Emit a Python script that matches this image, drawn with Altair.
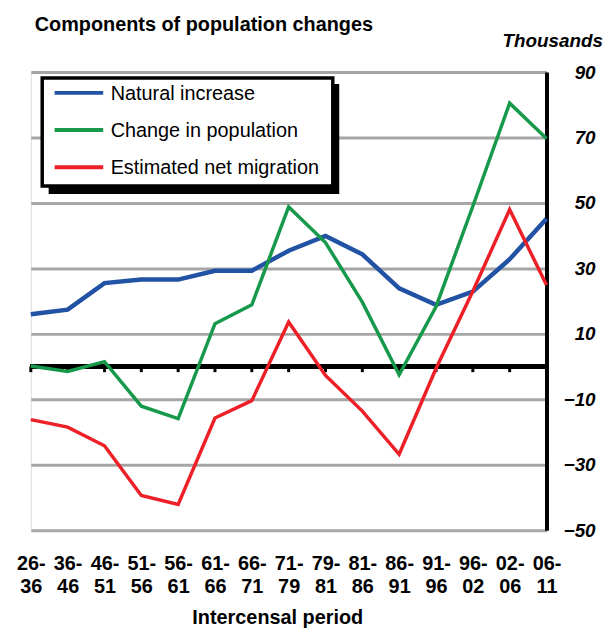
import altair as alt
import pandas as pd

periods = ["26-|36", "36-|46", "46-|51", "51-|56", "56-|61", "61-|66", "66-|71", "71-|79",
           "79-|81", "81-|86", "86-|91", "91-|96", "96-|02", "02-|06", "06-|11"]
natural_increase = [16, 17.4, 25.5, 26.6, 26.6, 29.3, 29.3, 35.4, 39.9, 34.3, 23.9, 18.9, 22.9, 32.8, 45.2]
change_in_population = [0.2, -1.5, 1.5, -12.1, -15.9, 13.1, 18.9, 48.8, 37.9, 19.7, -2.5, 18.3, 49, 80.5, 69.7]
net_migration = [-16.2, -18.5, -24.2, -39.4, -42.1, -15.7, -10.4, 13.6, -2.7, -13.6, -26.8, -0.6, 23, 48, 24.9]

series_names = ["Natural increase", "Change in population", "Estimated net migration"]
series_values = [natural_increase, change_in_population, net_migration]
series_colors = ["#2152a3", "#17994b", "#ed2028"]
series_widths = [4.5, 3.5, 3.5]
y_ticks = [-50, -30, -10, 10, 30, 50, 70, 90]

rows = []
for name, vals in zip(series_names, series_values):
    for p, v in zip(periods, vals):
        rows.append({"period": p, "series": name, "value": v})
df = pd.DataFrame(rows)
cat_df = pd.DataFrame({"period": periods})

FONT = "Liberation Sans"
W, H = 520, 462

x_enc = alt.X("period:O", sort=periods,
              scale=alt.Scale(type="point", padding=0),
              axis=alt.Axis(title=None, labelExpr="split(datum.label, '|')",
                            labelFont=FONT, labelFontSize=20, labelFontWeight="bold",
                            labelColor="black", labelAngle=0, labelLineHeight=23,
                            labelBaseline="alphabetic", labelPadding=40,
                            ticks=False, tickSize=0, domain=False, grid=False,
                            labelOverlap=False, labelBound=False))
y_scale = alt.Scale(domain=[-50, 90], nice=False, zero=False)
y_axis = alt.Axis(title=None, orient="right", values=y_ticks,
                  labelFont=FONT, labelFontSize=19, labelFontWeight="bold",
                  labelFontStyle="italic", labelColor="black", labelAlign="right",
                  labelBaseline="middle", labelPadding=49, ticks=False, tickSize=0,
                  domain=True, domainColor="black", domainWidth=4,
                  grid=True, gridColor="#a6a6a6", gridWidth=3)

layers = []

zero_line = alt.Chart(cat_df).mark_rule(color="black", strokeWidth=4.5).encode(
    y=alt.datum(0, scale=y_scale, axis=y_axis)
)
zero_ticks = alt.Chart(cat_df).mark_rule(color="black", strokeWidth=3).encode(
    x=x_enc, y=alt.datum(0), y2=alt.datum(-1.7)
)
layers += [zero_line, zero_ticks]

for name, color, sw in zip(series_names, series_colors, series_widths):
    layers.append(
        alt.Chart(df).transform_filter(alt.datum.series == name)
        .mark_line(color=color, strokeWidth=sw, strokeJoin="miter")
        .encode(x=x_enc, y=alt.Y("value:Q", scale=y_scale, axis=y_axis))
    )

one = pd.DataFrame({"a": [0]})
# legend shadow and box
layers.append(alt.Chart(one).mark_rect(fill="black").encode(
    x=alt.value(18), x2=alt.value(311), y=alt.value(12), y2=alt.value(123)))
layers.append(alt.Chart(one).mark_rect(fill="white", stroke="black", strokeWidth=3.5).encode(
    x=alt.value(11.5), x2=alt.value(304.5), y=alt.value(6), y2=alt.value(115)))
legend_y = [21, 58.5, 96]
for name, color, ly in zip(series_names, series_colors, legend_y):
    layers.append(alt.Chart(one).mark_rule(color=color, strokeWidth=4).encode(
        x=alt.value(24), x2=alt.value(73), y=alt.value(ly)))
    layers.append(alt.Chart(one).mark_text(
        text=name, font=FONT, fontSize=20, align="left", baseline="middle", color="black"
    ).encode(x=alt.value(80.5), y=alt.value(ly + 1)))

# annotations
layers.append(alt.Chart(one).mark_text(
    text="Components of population changes", font=FONT, fontSize=20, fontWeight="bold",
    align="left", baseline="alphabetic", color="black").encode(x=alt.value(4), y=alt.value(-41)))
layers.append(alt.Chart(one).mark_text(
    text="Thousands", font=FONT, fontSize=19, fontWeight="bold", fontStyle="italic",
    align="right", baseline="alphabetic", color="black").encode(x=alt.value(577), y=alt.value(-25)))
layers.append(alt.Chart(one).mark_text(
    text="Intercensal period", font=FONT, fontSize=20, fontWeight="bold",
    align="center", baseline="alphabetic", color="black").encode(x=alt.value(249), y=alt.value(557)))

chart = alt.layer(*layers).properties(
    width=W, height=H,
    autosize=alt.AutoSizeParams(type="none"),
    padding={"left": 23, "top": 62, "right": 60, "bottom": 97},
).configure_view(stroke="#a6a6a6", strokeWidth=3).configure(background="white")

chart.save("out.html", embed_options={"renderer": "svg", "actions": False})
